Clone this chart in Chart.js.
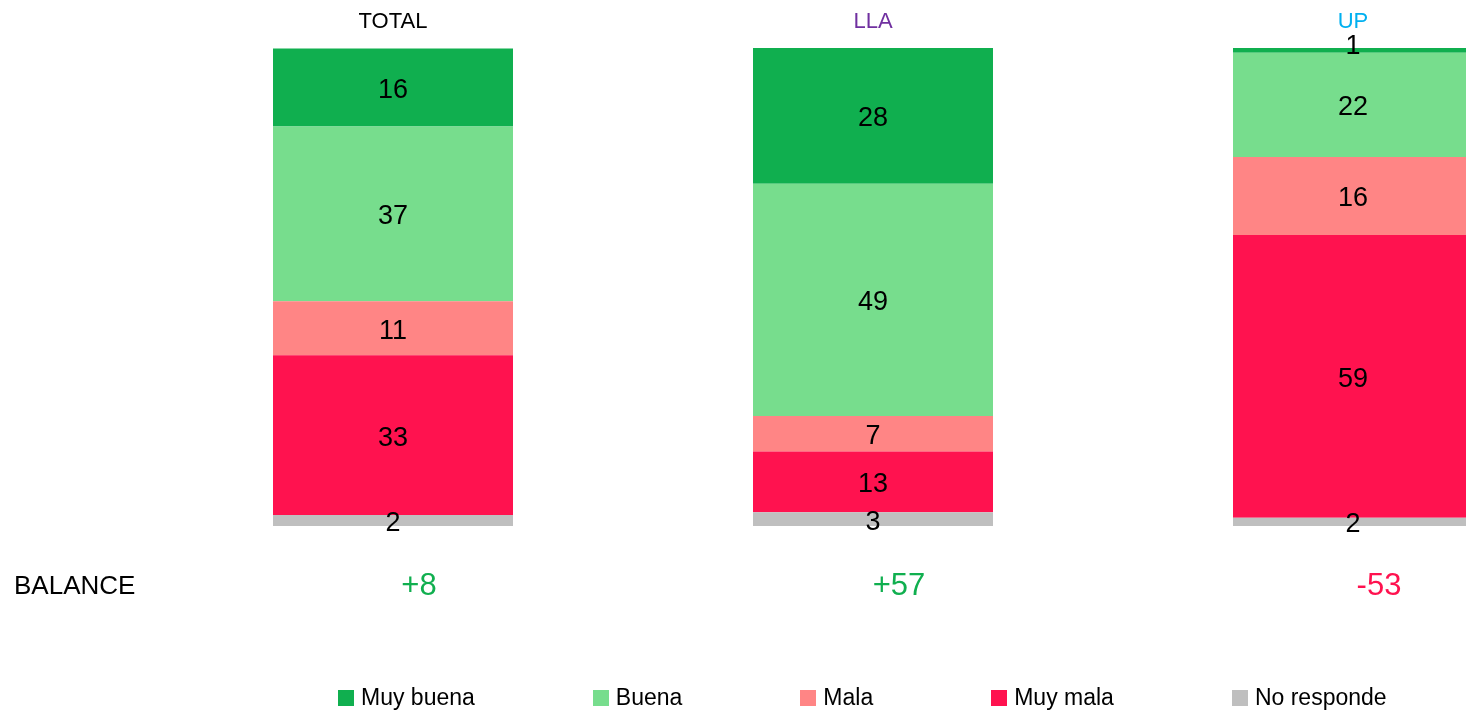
<!DOCTYPE html>
<html>
<head>
<meta charset="utf-8">
<script src="https://cdn.jsdelivr.net/npm/chart.js@4/dist/chart.umd.min.js"></script>
<style>
  html, body { margin: 0; padding: 0; background: #fff; overflow: hidden; }
  #wrap { position: relative; width: 1466px; height: 711px; overflow: hidden; }
  canvas { position: absolute; left: 0; top: 0; }
  #legend { position: absolute; left: 338px; top: 684px; display: flex; align-items: center;
            font-family: "Liberation Sans", Arial, sans-serif; font-size: 23px; color: #000; white-space: nowrap; }
  .item { display: flex; align-items: center; margin-right: 118px; }
  .box { width: 16px; height: 16px; margin-right: 7px; }
</style>
</head>
<body>
<div id="wrap">
  <canvas id="c" width="1600" height="711"></canvas>
  <div id="legend"></div>
</div>
<script>
// ---- data ----
const categories = ["TOTAL", "LLA", "UP"];
const categoryColors = ["#000000", "#7030A0", "#00B0F0"];
const muyBuena   = [16.3, 28.4, 1.0];
const buena      = [36.6, 48.6, 21.8];
const mala       = [11.3, 7.4, 16.3];
const muyMala    = [33.4, 12.7, 59.2];
const noResponde = [2.3, 2.9, 1.7];
const balance    = [8, 57, -53];
const balanceLabel = "BALANCE";

const FONT = '"Liberation Sans", Arial, sans-serif';

const series = [
  { label: "No responde", data: noResponde, color: "#BFBFBF" },
  { label: "Muy mala",    data: muyMala,    color: "#FF124F" },
  { label: "Mala",        data: mala,       color: "#FF8585" },
  { label: "Buena",       data: buena,      color: "#77DD8D" },
  { label: "Muy buena",   data: muyBuena,   color: "#10AF4F" }
];

const labelsPlugin = {
  id: "labels",
  afterDatasetsDraw(chart) {
    const ctx = chart.ctx;
    ctx.save();
    ctx.fillStyle = "#000";
    ctx.font = "27px " + FONT;
    ctx.textAlign = "center";
    ctx.textBaseline = "middle";
    chart.data.datasets.forEach((ds, i) => {
      const meta = chart.getDatasetMeta(i);
      meta.data.forEach((el, j) => {
        const v = ds.data[j];
        let y = (el.y + el.base) / 2 + 3;
        if (Math.abs(el.base - el.y) < 8 && i === chart.data.datasets.length - 1) y -= 7;
        ctx.fillText(String(Math.round(v)), el.x, y);
      });
    });
    ctx.restore();
  },
  afterDraw(chart) {
    const ctx = chart.ctx;
    const xs = chart.scales.x;
    ctx.save();
    ctx.textAlign = "center";
    ctx.textBaseline = "middle";
    ctx.font = "22px " + FONT;
    categories.forEach((c, i) => {
      ctx.fillStyle = categoryColors[i];
      ctx.fillText(c, xs.getPixelForValue(i), 22);
    });
    ctx.font = "31px " + FONT;
    balance.forEach((b, i) => {
      ctx.fillStyle = b >= 0 ? "#10AF4F" : "#FF124F";
      ctx.fillText((b > 0 ? "+" : "") + b, xs.getPixelForValue(i) + 26, 586);
    });
    ctx.fillStyle = "#000";
    ctx.textAlign = "left";
    ctx.font = "26px " + FONT;
    ctx.fillText(balanceLabel, 14, 587);
    ctx.restore();
  }
};

new Chart(document.getElementById("c"), {
  type: "bar",
  data: {
    labels: categories,
    datasets: series.map(s => ({
      label: s.label, data: s.data, backgroundColor: s.color,
      borderWidth: 0, categoryPercentage: 1, barPercentage: 0.5
    }))
  },
  options: {
    responsive: false,
    animation: false,
    devicePixelRatio: 1,
    layout: { padding: { left: 153, right: 7, top: 48, bottom: 185 } },
    plugins: { legend: { display: false }, tooltip: { enabled: false } },
    scales: {
      x: { stacked: true, display: false, offset: true },
      y: { stacked: true, display: false, min: 0, max: 100 }
    }
  },
  plugins: [labelsPlugin]
});

const legend = document.getElementById("legend");
series.slice().reverse().forEach(s => {
  const it = document.createElement("div");
  it.className = "item";
  const b = document.createElement("div");
  b.className = "box"; b.style.background = s.color;
  const t = document.createElement("span");
  t.textContent = s.label;
  it.appendChild(b); it.appendChild(t);
  legend.appendChild(it);
});
</script>
</body>
</html>
